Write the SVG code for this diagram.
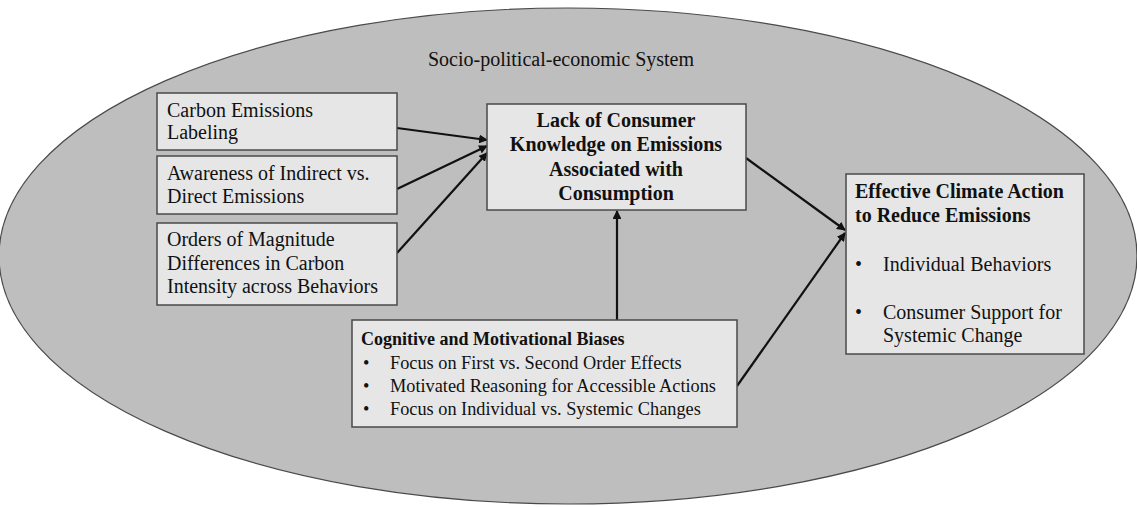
<svg xmlns="http://www.w3.org/2000/svg" width="1137" height="507" viewBox="0 0 1137 507">
  <style>
    .sys { fill: #bebebe; stroke: #4a4a4a; stroke-width: 1.2; }
    .box { fill: #e6e6e6; stroke: #4a4a4a; stroke-width: 1.5; }
    text { font-family: "Liberation Serif", "Times New Roman", serif; fill: #111; font-size: 20px; }
    .b { font-weight: bold; }
    .sm { font-size: 18.3px; }
    .smb { font-size: 18px; font-weight: bold; }
    .edge { stroke: #111; stroke-width: 2.2; fill: none; marker-end: url(#arrow); }
  </style>
  <defs>
    <marker id="arrow" viewBox="0 0 10 10" refX="9" refY="5" markerWidth="4" markerHeight="4" orient="auto" markerUnits="strokeWidth">
      <path d="M0,0 L10,5 L0,10 z" fill="#111"/>
    </marker>
  </defs>

  <rect width="1137" height="507" fill="#ffffff"/>

  <!-- outer system boundary -->
  <g id="system">
    <ellipse class="sys" cx="568" cy="256" rx="569" ry="248"/>
    <text x="561" y="66" text-anchor="middle">Socio-political-economic System</text>
  </g>

  <g id="connectors">
    <line class="edge" x1="397" y1="128" x2="487" y2="140"/>
    <line class="edge" x1="397" y1="189" x2="487" y2="146"/>
    <line class="edge" x1="397" y1="253" x2="487" y2="153"/>
    <line class="edge" x1="617" y1="320" x2="617" y2="211"/>
    <line class="edge" x1="746" y1="158" x2="845" y2="230"/>
    <line class="edge" x1="737" y1="386" x2="845" y2="233"/>
  </g>

  <g id="labeling">
    <rect class="box" x="157" y="93" width="240" height="57"/>
    <text x="167" y="117">Carbon Emissions</text>
    <text x="167" y="139">Labeling</text>
  </g>

  <g id="awareness">
    <rect class="box" x="157" y="156" width="240" height="58"/>
    <text x="167" y="180">Awareness of Indirect vs.</text>
    <text x="167" y="203">Direct Emissions</text>
  </g>

  <g id="magnitude">
    <rect class="box" x="157" y="223" width="240" height="82"/>
    <text x="167" y="246">Orders of Magnitude</text>
    <text x="167" y="270">Differences in Carbon</text>
    <text x="167" y="293">Intensity across Behaviors</text>
  </g>

  <g id="knowledge">
    <rect class="box" x="487" y="104" width="259" height="106"/>
    <text class="b" x="616" y="127" text-anchor="middle">Lack of Consumer</text>
    <text class="b" x="616" y="151" text-anchor="middle">Knowledge on Emissions</text>
    <text class="b" x="616" y="176" text-anchor="middle">Associated with</text>
    <text class="b" x="616" y="200" text-anchor="middle">Consumption</text>
  </g>

  <g id="climate-action">
    <rect class="box" x="846" y="174" width="238" height="180"/>
    <text class="b" x="855" y="198">Effective Climate Action</text>
    <text class="b" x="855" y="222">to Reduce Emissions</text>
    <text x="855" y="271">•</text>
    <text x="883" y="271">Individual Behaviors</text>
    <text x="855" y="319">•</text>
    <text x="883" y="319">Consumer Support for</text>
    <text x="883" y="342">Systemic Change</text>
  </g>

  <g id="biases">
    <rect class="box" x="352" y="320" width="385" height="107"/>
    <text class="smb" x="361" y="345">Cognitive and Motivational Biases</text>
    <text class="sm" x="363" y="369">•</text>
    <text class="sm" x="390" y="369">Focus on First vs. Second Order Effects</text>
    <text class="sm" x="363" y="392">•</text>
    <text class="sm" x="390" y="392">Motivated Reasoning for Accessible Actions</text>
    <text class="sm" x="363" y="415">•</text>
    <text class="sm" x="390" y="415">Focus on Individual vs. Systemic Changes</text>
  </g>
</svg>
